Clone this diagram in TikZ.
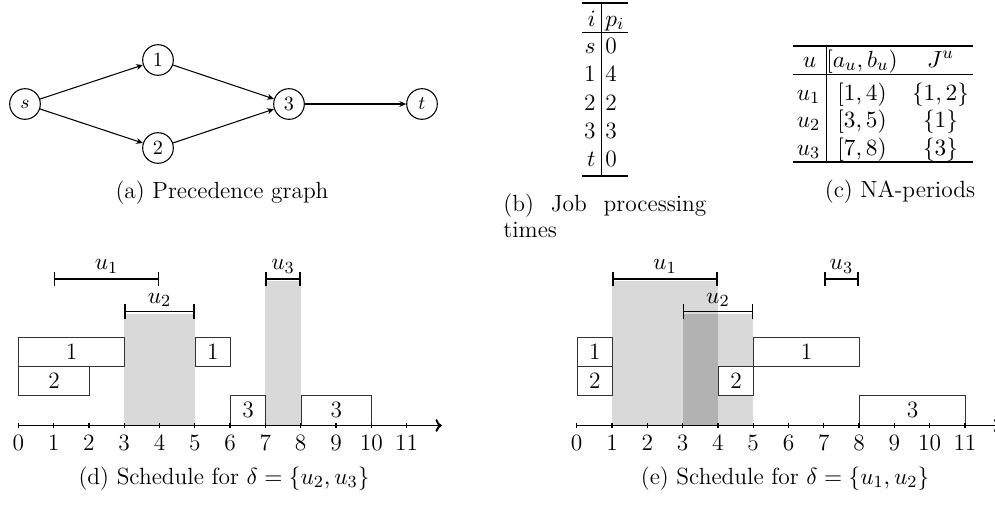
\documentclass[tikz,border=0pt]{standalone}
\usetikzlibrary{arrows.meta}
\begin{document}
\begin{tikzpicture}[x=0.47pt,y=-0.47pt,
  txt/.style={font=\fontsize{11}{13.2}\selectfont, inner sep=0pt},
  gnode/.style={circle, draw, line width=0.5pt, minimum size=14.4pt, inner sep=0pt, font=\fontsize{9.5}{11}\selectfont},
  edge/.style={line width=0.5pt, -{Stealth[length=3.2pt,width=2.8pt]}},
  brule/.style={line width=0.8pt},
  mrule/.style={line width=0.5pt},
  vrule/.style={line width=0.4pt},
  jobbox/.style={draw=black!80, line width=0.45pt, fill=white, inner sep=0pt, anchor=south west, minimum height=13.77pt, font=\fontsize{11}{13.2}\selectfont},
  axis/.style={line width=0.9pt, -{To[length=3pt,width=6pt]}},
  tickmark/.style={line width=0.6pt},
  period/.style={line width=0.8pt, {Bar[width=7pt]}-{Bar[width=7pt]}},
  lightshade/.style={fill=black!15},
  darkshade/.style={fill=black!30},
]
\useasboundingbox (0,0) rectangle (995,509);

% ---------- (a) precedence graph ----------
\node[gnode] (s) at (25,104) {$s$};
\node[gnode] (n1) at (158,60) {1};
\node[gnode] (n2) at (158,148) {2};
\node[gnode] (n3) at (289,104) {3};
\node[gnode] (t) at (422,104) {$t$};
\draw[edge] (s) -- (n1);
\draw[edge] (s) -- (n2);
\draw[edge] (n1) -- (n3);
\draw[edge] (n2) -- (n3);
\draw[edge] (n3) -- (t);
\node[txt, anchor=base] (capa) at (222,198) {(a) Precedence graph};

% ---------- (b) processing times ----------
\coordinate (bTL) at (582,3.3);
\coordinate (bTR) at (628,3.3);
\coordinate (bML) at (582,32.7);
\coordinate (bMR) at (628,32.7);
\coordinate (bBL) at (582,175.7);
\coordinate (bBR) at (628,175.7);
\coordinate (bVT) at (601,3.3);
\coordinate (bVB) at (601,175.7);
\draw[brule] (bTL) -- (bTR);
\draw[mrule] (bML) -- (bMR);
\draw[brule] (bBL) -- (bBR);
\draw[vrule] (bVT) -- (bVB);
\node[txt, anchor=base east] (bh1) at (596,26) {$i$};
\node[txt, anchor=base west] (bh2) at (605,26) {$p_i$};
\foreach \k/\a/\b/\y in {1/$s$/0/53.3, 2/1/4/81.7, 3/2/2/110, 4/3/3/138.3, 5/$t$/0/166.7}{
  \node[txt, anchor=base east] (bl\k) at (596,\y) {\a};
  \node[txt, anchor=base west] (br\k) at (605,\y) {\b};
}
\node[txt, anchor=base west] (capb1) at (503,211) {\makebox[95.4pt][s]{(b) Job processing}};
\node[txt, anchor=base west] (capb2) at (503,237) {times};

% ---------- (c) NA-periods ----------
\coordinate (cTL) at (793,45.7);
\coordinate (cTR) at (973,45.7);
\coordinate (cML) at (793,74.3);
\coordinate (cMR) at (973,74.3);
\coordinate (cBL) at (793,161.7);
\coordinate (cBR) at (973,161.7);
\coordinate (cVT) at (826,45.7);
\coordinate (cVB) at (826,161.7);
\draw[brule] (cTL) -- (cTR);
\draw[mrule] (cML) -- (cMR);
\draw[brule] (cBL) -- (cBR);
\draw[vrule] (cVT) -- (cVB);
\node[txt, anchor=base] (ch1) at (809.5,67) {$u$};
\node[txt, anchor=base] (ch2) at (862,67) {$[a_u,b_u)$};
\node[txt, anchor=base] (ch3) at (940.5,67) {$J^u$};
\foreach \k/\y/\iv/\js in {1/100/{[1,4)}/{\{1,2\}}, 2/127.3/{[3,5)}/{\{1\}}, 3/155/{[7,8)}/{\{3\}}}{
  \node[txt, anchor=base] (cu\k) at (808.5,\y) {$u_\k$};
  \node[txt, anchor=base] (ci\k) at (862,\y) {$\iv$};
  \node[txt, anchor=base] (cj\k) at (940.5,\y) {$\js$};
}
\node[txt, anchor=base] (capc) at (900,197.5) {(c) NA-periods};

% ---------- (d) schedule ----------
\begin{scope}[shift={(18.3,425.5)}, x=16.59pt, y=13.77pt]
  \fill[lightshade] (3,0) rectangle (5,3.8);
  \fill[lightshade] (7,0) rectangle (8,4.92);
  \node[jobbox, minimum width=49.77pt] (d1a) at (0,2) {1};
  \node[jobbox, minimum width=16.59pt] (d1b) at (5,2) {1};
  \node[jobbox, minimum width=33.18pt] (d2a) at (0,1) {2};
  \node[jobbox, minimum width=16.59pt] (d3a) at (6,0) {3};
  \node[jobbox, minimum width=33.18pt] (d3b) at (8,0) {3};
  \coordinate (du1a) at (1,5); \coordinate (du1b) at (4,5);
  \coordinate (du2a) at (3,3.89); \coordinate (du2b) at (5,3.89);
  \coordinate (du3a) at (7,5); \coordinate (du3b) at (8,5);
  \draw[period] (du1a) -- (du1b);
  \draw[period] (du2a) -- (du2b);
  \draw[period] (du3a) -- (du3b);
  \node[txt, anchor=base] (dl1) at (2.5,5.31) {$u_1$};
  \node[txt, anchor=base] (dl2) at (4,4.17) {$u_2$};
  \node[txt, anchor=base] (dl3) at (7.5,5.31) {$u_3$};
  \coordinate (dax0) at (0,0);
  \coordinate (dax1) at (12,0);
  \draw[axis] (dax0) -- (dax1);
  \foreach \i in {0,...,11}{
    \coordinate (dtt\i) at (\i,0.085);
    \coordinate (dtb\i) at (\i,-0.085);
    \draw[tickmark] (dtt\i) -- (dtb\i);
    \node[txt, anchor=base] (dn\i) at (\i,-0.836) {\i};
  }
\end{scope}
\node[txt, anchor=base] (capd) at (224,484) {(d) Schedule for $\delta=\{u_2,u_3\}$};

% ---------- (e) schedule ----------
\begin{scope}[shift={(576.7,425.5)}, x=16.59pt, y=13.77pt]
  \fill[lightshade] (1,0) rectangle (4,4.92);
  \fill[lightshade] (3,0) rectangle (5,3.8);
  \fill[darkshade] (3,0) rectangle (4,3.8);
  \node[jobbox, minimum width=16.59pt] (e1a) at (0,2) {1};
  \node[jobbox, minimum width=49.77pt] (e1b) at (5,2) {1};
  \node[jobbox, minimum width=16.59pt] (e2a) at (0,1) {2};
  \node[jobbox, minimum width=16.59pt] (e2b) at (4,1) {2};
  \node[jobbox, minimum width=49.77pt] (e3a) at (8,0) {3};
  \coordinate (eu1a) at (1,5); \coordinate (eu1b) at (4,5);
  \coordinate (eu2a) at (3,3.89); \coordinate (eu2b) at (5,3.89);
  \coordinate (eu3a) at (7,5); \coordinate (eu3b) at (8,5);
  \draw[period] (eu1a) -- (eu1b);
  \draw[period] (eu2a) -- (eu2b);
  \draw[period] (eu3a) -- (eu3b);
  \node[txt, anchor=base] (el1) at (2.5,5.31) {$u_1$};
  \node[txt, anchor=base] (el2) at (4,4.17) {$u_2$};
  \node[txt, anchor=base] (el3) at (7.5,5.31) {$u_3$};
  \coordinate (eax0) at (0,0);
  \coordinate (eax1) at (12,0);
  \draw[axis] (eax0) -- (eax1);
  \foreach \i in {0,...,11}{
    \coordinate (ett\i) at (\i,0.085);
    \coordinate (etb\i) at (\i,-0.085);
    \draw[tickmark] (ett\i) -- (etb\i);
    \node[txt, anchor=base] (en\i) at (\i,-0.836) {\i};
  }
\end{scope}
\node[txt, anchor=base] (cape) at (785,484) {(e) Schedule for $\delta=\{u_1,u_2\}$};
\end{tikzpicture}
\end{document}
